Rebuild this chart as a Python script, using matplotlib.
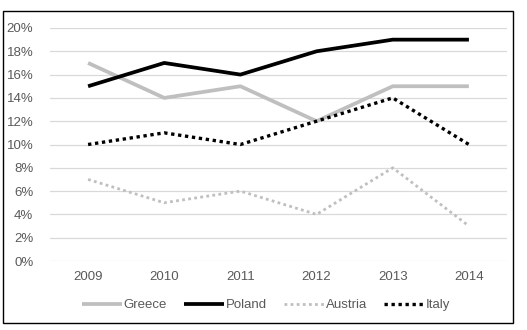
import matplotlib
matplotlib.use("Agg")
import matplotlib.pyplot as plt
from matplotlib.patches import Rectangle
from matplotlib.ticker import FuncFormatter

years = ["2009", "2010", "2011", "2012", "2013", "2014"]
greece = [17, 14, 15, 12, 15, 15]
poland = [15, 17, 16, 18, 19, 19]
austria = [7, 5, 6, 4, 8, 3]
italy = [10, 11, 10, 12, 14, 10]

plt.rcParams['font.family'] = ['Liberation Sans', 'DejaVu Sans']

W, H = 527, 330
fig = plt.figure(figsize=(W/100, H/100), dpi=100)
fig.patch.set_facecolor('white')
ax = fig.add_axes([50/W, 69/H, 457/W, 233/H])

x = list(range(len(years)))
l1, = ax.plot(x, [v/100 for v in greece], color='#BFBFBF', lw=2.7, solid_capstyle='butt', label='Greece')
l2, = ax.plot(x, [v/100 for v in poland], color='#000000', lw=2.7, solid_capstyle='butt', label='Poland')
l3, = ax.plot(x, [v/100 for v in austria], color='#BFBFBF', lw=2.0, linestyle=(0, (1, 1.2)), label='Austria')
l4, = ax.plot(x, [v/100 for v in italy], color='#000000', lw=2.4, linestyle=(0, (1, 1.1)), label='Italy')

ax.set_xlim(-0.5, 5.5)
ax.set_ylim(0, 0.20)
ax.set_yticks([i/100 for i in range(0, 21, 2)])
ax.yaxis.set_major_formatter(FuncFormatter(lambda v, p: f"{round(v*100)}%"))
ax.set_xticks(x)
ax.set_xticklabels(years)
ax.grid(axis='y', color='#D9D9D9', lw=0.9)
ax.set_axisbelow(True)
for s in ax.spines.values():
    s.set_visible(False)
ax.tick_params(axis='both', length=0, colors='#595959', labelsize=9.5)
ax.tick_params(axis='y', pad=12)
ax.tick_params(axis='x', pad=7)

fig.patches.append(Rectangle((3/W, 7/H), 510/W, 312/H, transform=fig.transFigure,
                             fill=False, edgecolor='#000000', lw=1.0))

fig.legend(handles=[l1, l2, l3, l4], loc='center', bbox_to_anchor=(266/W, 25/H),
           ncol=4, frameon=False, fontsize=9.5, handlelength=3.0, handletextpad=0.15,
           columnspacing=1.3, labelcolor='#595959')

fig.savefig('out.png', dpi=100, facecolor='white')
